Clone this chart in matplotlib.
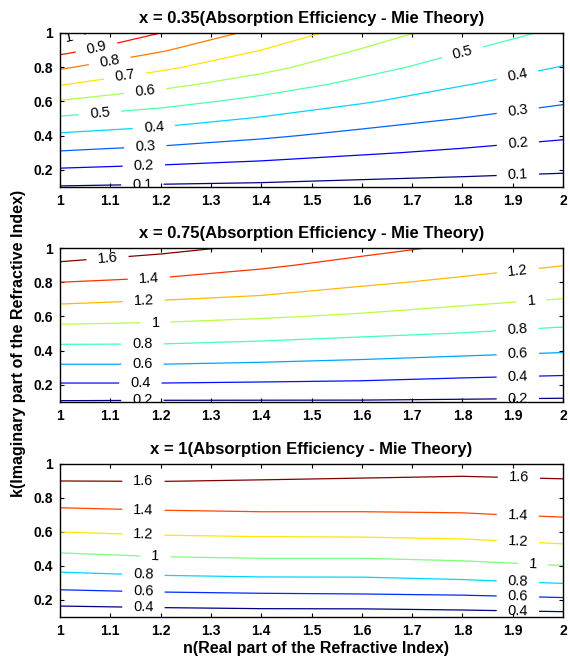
import numpy as np
import matplotlib
matplotlib.use('Agg')
import matplotlib.pyplot as plt

plt.rcParams['font.family'] = ['Liberation Sans', 'DejaVu Sans']

# grid nodes (n = real part, k = imaginary part)
n_vals = [1.0, 1.2, 1.4, 1.6, 1.8, 2.0]
k_vals = [0.1, 0.2, 0.3, 0.4, 0.5, 0.6, 0.7, 0.8, 0.9, 1.0]

# absorption efficiency, rows = k, columns = n
q_035 = [
    [0.094, 0.086, 0.080, 0.070, 0.064, 0.059],
    [0.190, 0.174, 0.159, 0.140, 0.124, 0.110],
    [0.290, 0.265, 0.237, 0.209, 0.185, 0.162],
    [0.383, 0.354, 0.315, 0.274, 0.242, 0.212],
    [0.485, 0.444, 0.392, 0.341, 0.298, 0.261],
    [0.593, 0.535, 0.472, 0.409, 0.352, 0.309],
    [0.706, 0.628, 0.552, 0.474, 0.405, 0.352],
    [0.813, 0.720, 0.629, 0.535, 0.456, 0.396],
    [0.933, 0.810, 0.700, 0.594, 0.506, 0.437],
    [1.040, 0.900, 0.770, 0.653, 0.552, 0.480],
]
q_075 = [
    [0.185, 0.180, 0.180, 0.180, 0.174, 0.167],
    [0.380, 0.380, 0.370, 0.360, 0.335, 0.317],
    [0.564, 0.564, 0.547, 0.525, 0.494, 0.468],
    [0.737, 0.737, 0.712, 0.680, 0.648, 0.616],
    [0.907, 0.898, 0.868, 0.829, 0.794, 0.752],
    [1.078, 1.054, 1.018, 0.975, 0.923, 0.877],
    [1.246, 1.208, 1.170, 1.105, 1.047, 0.995],
    [1.400, 1.362, 1.301, 1.229, 1.165, 1.100],
    [1.567, 1.507, 1.429, 1.343, 1.270, 1.204],
    [1.733, 1.650, 1.563, 1.453, 1.370, 1.304],
]
q_1 = [
    [0.262, 0.276, 0.290, 0.285, 0.306, 0.325],
    [0.477, 0.501, 0.515, 0.526, 0.536, 0.566],
    [0.682, 0.713, 0.731, 0.736, 0.762, 0.806],
    [0.867, 0.907, 0.925, 0.923, 0.950, 0.996],
    [1.040, 1.077, 1.092, 1.094, 1.114, 1.159],
    [1.200, 1.228, 1.241, 1.246, 1.259, 1.295],
    [1.344, 1.366, 1.379, 1.380, 1.388, 1.415],
    [1.476, 1.487, 1.489, 1.484, 1.483, 1.502],
    [1.600, 1.603, 1.593, 1.583, 1.575, 1.589],
    [1.711, 1.714, 1.698, 1.683, 1.666, 1.676],
]

levels_035 = [0.1, 0.2, 0.3, 0.4, 0.5, 0.6, 0.7, 0.8, 0.9, 1.0]
levels_075 = [0.2, 0.4, 0.6, 0.8, 1.0, 1.2, 1.4, 1.6]
levels_1 = [0.4, 0.6, 0.8, 1.0, 1.2, 1.4, 1.6]

titles = ['x = 0.35(Absorption Efficiency - Mie Theory)',
          'x = 0.75(Absorption Efficiency - Mie Theory)',
          'x = 1(Absorption Efficiency - Mie Theory)']

# where the inline labels sit (n, k)
label_pos = [
    [(1.02, 0.96), (1.074, 0.90), (1.10, 0.82), (1.13, 0.74), (1.17, 0.655),
     (1.08, 0.52), (1.187, 0.44), (1.17, 0.33), (1.167, 0.22), (1.164, 0.11),
     (1.80, 0.89), (1.91, 0.74), (1.91, 0.54), (1.91, 0.355), (1.91, 0.17)],
    [(1.095, 0.93), (1.177, 0.81), (1.167, 0.676), (1.19, 0.56), (1.164, 0.437),
     (1.164, 0.32), (1.16, 0.21), (1.164, 0.108),
     (1.91, 0.87), (1.937, 0.69), (1.909, 0.52), (1.91, 0.378), (1.91, 0.245),
     (1.91, 0.117)],
    [(1.166, 0.89), (1.166, 0.72), (1.166, 0.575), (1.19, 0.45), (1.166, 0.339),
     (1.166, 0.24), (1.166, 0.145),
     (1.912, 0.907), (1.91, 0.689), (1.91, 0.535), (1.94, 0.408), (1.91, 0.303),
     (1.91, 0.214), (1.91, 0.135)],
]

fig = plt.figure(figsize=(5.7, 6.6), dpi=100)
boxes = [[0.105, 0.7167, 0.883, 0.2333],
         [0.105, 0.3909, 0.883, 0.2333],
         [0.105, 0.0652, 0.883, 0.2318]]

N, K = np.meshgrid(n_vals, k_vals)
for i, (Z, lev) in enumerate([(q_035, levels_035), (q_075, levels_075), (q_1, levels_1)]):
    ax = fig.add_axes(boxes[i])
    cs = ax.contour(N, K, np.array(Z), levels=lev, cmap='jet', linewidths=0.9)
    ax.clabel(cs, fontsize=10.5, colors='k', inline=True, inline_spacing=11,
              fmt='%g', manual=label_pos[i])
    ax.set_xlim(1, 2)
    ax.set_ylim(0.1, 1)
    ax.set_xticks([1, 1.1, 1.2, 1.3, 1.4, 1.5, 1.6, 1.7, 1.8, 1.9, 2])
    ax.set_xticklabels(['1', '1.1', '1.2', '1.3', '1.4', '1.5', '1.6', '1.7', '1.8', '1.9', '2'])
    ax.set_yticks([0.2, 0.4, 0.6, 0.8, 1])
    ax.set_yticklabels(['0.2', '0.4', '0.6', '0.8', '1'])
    ax.tick_params(direction='in', top=True, right=True, length=3, width=0.8,
                   labelsize=10, pad=5)
    for lab in ax.get_xticklabels() + ax.get_yticklabels():
        lab.set_fontweight('bold')
    for sp in ax.spines.values():
        sp.set_linewidth(1.0)
    ax.set_title(titles[i], fontsize=12, fontweight='bold', pad=7)

fig.text(0.032, 0.48, 'k(Imaginary part of the Refractive Index)', rotation=90,
         ha='center', va='center', fontsize=11.5, fontweight='bold')
fig.text(0.555, 0.018, 'n(Real part of the Refractive Index)',
         ha='center', va='center', fontsize=11.5, fontweight='bold')

fig.savefig('out.png', dpi=100)
